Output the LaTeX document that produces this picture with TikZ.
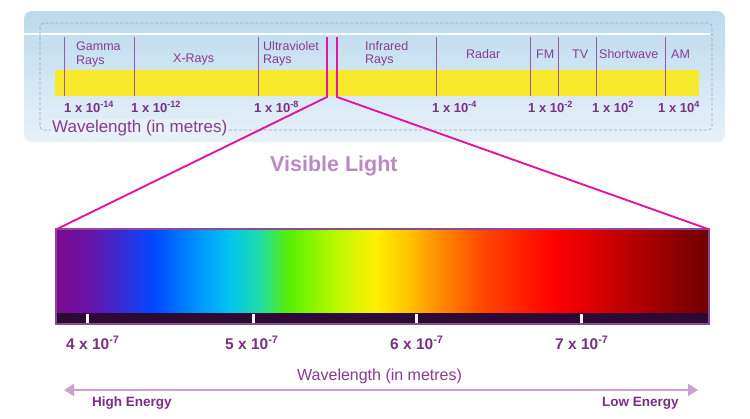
\documentclass[tikz,border=0pt]{standalone}
\usepackage{fontspec}
\setmainfont{Liberation Sans}
\usetikzlibrary{arrows.meta}
\definecolor{panelTop}{HTML}{BBDAEE}
\definecolor{panelBot}{HTML}{E7F1F9}
\definecolor{dashgray}{HTML}{98A8B4}
\definecolor{barYellow}{HTML}{F7E92C}
\definecolor{divcol}{HTML}{955AA0}
\definecolor{topPurple}{HTML}{8A3A91}
\definecolor{numPurple}{HTML}{7B2F83}
\definecolor{visCol}{HTML}{BA8BC3}
\definecolor{pinkCol}{HTML}{E2169F}
\definecolor{borderPurple}{HTML}{8A4A98}
\definecolor{darkbar}{HTML}{2C0A34}
\definecolor{arrowCol}{HTML}{C9A2D2}
\definecolor{energyCol}{HTML}{7A2E86}
\definecolor{spA}{HTML}{7B0A8C}
\definecolor{spB}{HTML}{6A12A5}
\definecolor{spC}{HTML}{3A2AD0}
\definecolor{spD}{HTML}{0048FF}
\definecolor{spE}{HTML}{0098FF}
\definecolor{spF}{HTML}{00C4EE}
\definecolor{spG}{HTML}{20DCA8}
\definecolor{spH}{HTML}{5AF000}
\definecolor{spI}{HTML}{B4F800}
\definecolor{spJ}{HTML}{FFF000}
\definecolor{spK}{HTML}{FFC400}
\definecolor{spL}{HTML}{FF8800}
\definecolor{spM}{HTML}{FF4400}
\definecolor{spN}{HTML}{FF0000}
\definecolor{spO}{HTML}{BE0000}
\definecolor{spP}{HTML}{6E0000}
\pgfdeclarehorizontalshading{spectrum}{100bp}{color(0bp)=(spA); color(25bp)=(spA); color(27.35bp)=(spB); color(29.9bp)=(spC); color(32.45bp)=(spD); color(36bp)=(spE); color(38.3bp)=(spF); color(40.6bp)=(spG); color(42.9bp)=(spH); color(46.2bp)=(spI); color(49.45bp)=(spJ); color(51.95bp)=(spK); color(54.55bp)=(spL); color(57.85bp)=(spM); color(63.2bp)=(spN); color(68.55bp)=(spO); color(75bp)=(spP); color(100bp)=(spP)}
\begin{document}
\begin{tikzpicture}[x=1pt,y=-1pt,
  toplabel/.style={font=\fontsize{12.5}{13.2}\selectfont, text=topPurple, inner sep=0pt, align=left},
  numlabel/.style={font=\bfseries\fontsize{13}{13}\selectfont, text=numPurple, inner sep=0pt, anchor=base west},
  vislabel/.style={font=\bfseries\fontsize{15.5}{15.5}\selectfont, text=numPurple, inner sep=0pt, anchor=base west},
  energy/.style={font=\bfseries\fontsize{13.5}{13.5}\selectfont, text=energyCol, inner sep=0pt, anchor=base west},
  divider/.style={draw=divcol, line width=1pt},
  zoomline/.style={draw=pinkCol, line width=1.9pt},
  tick/.style={fill=white}]
\useasboundingbox (0,0) rectangle (750,418);
\fill[white] (0,0) rectangle (750,418);
% top panel
\shade[rounded corners=8pt, top color=panelTop, bottom color=panelBot] (24,11) rectangle (725,142);
\draw[white, line width=2pt] (24,34) -- (710,34);
\draw[dashgray, dash pattern=on 3pt off 2pt, line width=0.7pt, rounded corners=4pt] (40,23) rectangle (712,130);
\fill[barYellow] (55,70) rectangle (699,96);
\foreach \x in {64,134,258,436,530,558,596,665}
  \draw[divider] (\x,37) -- (\x,96);
% band labels
\node[toplabel, anchor=north west] (gamma) at (76,42) {Gamma\\Rays};
\node[toplabel, anchor=base west] (xray) at (173,62) {X-Rays};
\node[toplabel, anchor=north west] (uv) at (263,41) {Ultraviolet\\Rays};
\node[toplabel, anchor=north west] (ir) at (365,41) {Infrared\\Rays};
\node[toplabel, anchor=base west] (radar) at (466,58) {Radar};
\node[toplabel, anchor=base west] (fm) at (536,58) {FM};
\node[toplabel, anchor=base west] (tv) at (572,58) {TV};
\node[toplabel, anchor=base west] (sw) at (599,58) {Shortwave};
\node[toplabel, anchor=base west] (am) at (671,58) {AM};
% values
\node[numlabel] (n1) at (64,112) {1 x 10\textsuperscript{-14}};
\node[numlabel] (n2) at (131,112) {1 x 10\textsuperscript{-12}};
\node[numlabel] (n3) at (254,112) {1 x 10\textsuperscript{-8}};
\node[numlabel] (n4) at (432,112) {1 x 10\textsuperscript{-4}};
\node[numlabel] (n5) at (528,112) {1 x 10\textsuperscript{-2}};
\node[numlabel] (n6) at (592,112) {1 x 10\textsuperscript{2}};
\node[numlabel] (n7) at (658,112) {1 x 10\textsuperscript{4}};
\node[font=\fontsize{17}{17}\selectfont, text=topPurple, anchor=base west, inner sep=1pt, fill=panelBot] (wl1) at (51,132) {Wavelength (in metres)};
% visible light
\node[font=\bfseries\fontsize{21.5}{21.5}\selectfont, text=visCol, anchor=base west, inner sep=0pt] (vis) at (270,171) {Visible Light};
% spectrum
\coordinate (specNW) at (57,229);
\coordinate (specNE) at (708,229);
\coordinate (zl1) at (327,37);
\coordinate (zl2) at (327,97);
\coordinate (zr1) at (337,37);
\coordinate (zr2) at (337,97);
\shade[shading=spectrum] (56,229) rectangle (709,313);
\fill[darkbar] (56,313) rectangle (709,324);
\foreach \x in {87,253,416,581}
  \fill[tick] (\x-1.5,314) rectangle (\x+1.5,324);
\draw[borderPurple, line width=1.3pt] (56,229) rectangle (709,324);
\draw[zoomline] (zl1) -- (zl2) -- (specNW);
\draw[zoomline] (zr1) -- (zr2) -- (specNE);
% visible labels
\node[vislabel] (v4) at (66,349) {4 x 10\textsuperscript{-7}};
\node[vislabel] (v5) at (225,349) {5 x 10\textsuperscript{-7}};
\node[vislabel] (v6) at (390,349) {6 x 10\textsuperscript{-7}};
\node[vislabel] (v7) at (555,349) {7 x 10\textsuperscript{-7}};
\node[font=\fontsize{16}{16}\selectfont, text=topPurple, anchor=base west, inner sep=0pt] (wl2) at (297,380) {Wavelength (in metres)};
% energy arrow
\coordinate (aL) at (64,390);
\coordinate (aR) at (698,390);
\draw[arrowCol, line width=2pt, {Triangle[length=10pt,width=12pt]}-{Triangle[length=10pt,width=12pt]}] (aL) -- (aR);
\node[energy] (he) at (92,406) {High Energy};
\node[energy] (le) at (602,406) {Low Energy};
\end{tikzpicture}
\end{document}
